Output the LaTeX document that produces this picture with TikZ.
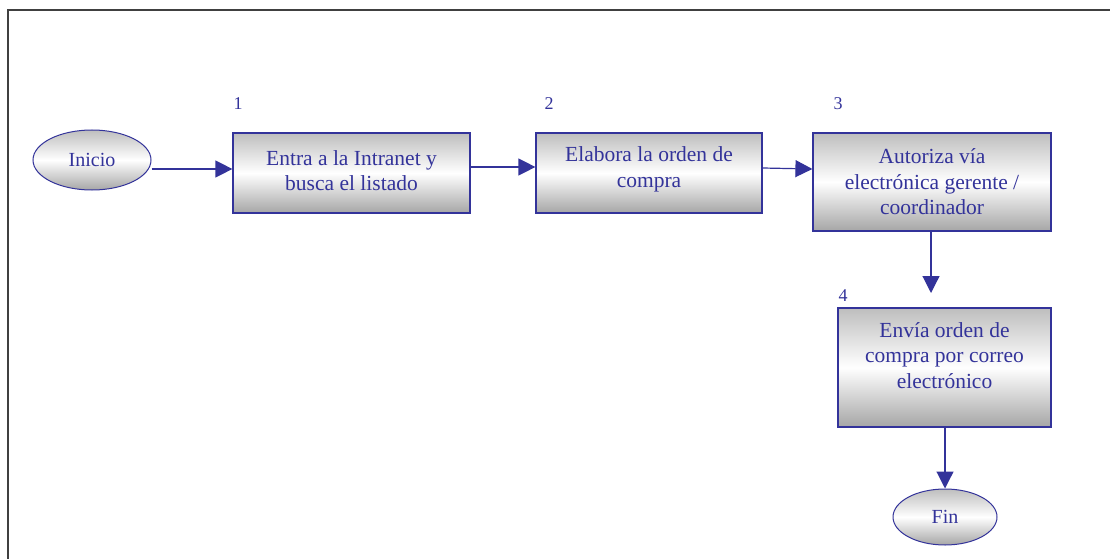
\documentclass[tikz,border=0pt]{standalone}
\usepackage{fontspec}
\setmainfont{Liberation Serif}
\usetikzlibrary{arrows.meta,shapes.geometric}
\definecolor{navy}{HTML}{33339A}
\definecolor{shadetop}{HTML}{BEBEBE}
\definecolor{shadebot}{HTML}{A6A6A6}
\tikzset{
  stepbox/.style={draw=navy, line width=1.2pt, rectangle,
    top color=shadetop, bottom color=shadebot, middle color=white,
    inner sep=0pt},
  boxtext/.style={align=center, text=navy, inner sep=0pt,
    font=\fontsize{21.5}{25.5}\selectfont},
  terminal/.style={draw=navy, line width=1pt, ellipse, align=center,
    text=navy, font=\fontsize{20}{24}\selectfont,
    top color=shadetop, bottom color=shadebot, middle color=white,
    inner sep=0pt},
  steplabel/.style={text=navy, font=\fontsize{18}{22}\selectfont, inner sep=0pt},
  flow/.style={draw=navy, line width=1.2pt, -{Triangle[length=17pt,width=17pt]}},
}
\begin{document}
\begin{tikzpicture}[x=1pt,y=-1pt]
  \useasboundingbox (0,0) rectangle (1110,559);
  % outer frame
  \draw[line width=2pt, black!75] (8,559) -- (8,10) -- (1112,10);

  % start / end
  \node[terminal, minimum width=118pt, minimum height=60pt] (ini) at (92,160) {Inicio};
  \node[terminal, minimum width=104pt, minimum height=56pt] (fin) at (945,517) {Fin};

  % process steps: shaded boxes, then their captions
  \node[stepbox, minimum width=237pt, minimum height=80pt] (s1) at (351.5,173) {};
  \node[stepbox, minimum width=226pt, minimum height=80pt] (s2) at (649,173) {};
  \node[stepbox, minimum width=238pt, minimum height=98pt] (s3) at (932,182) {};
  \node[stepbox, minimum width=213pt, minimum height=119pt] (s4) at (944.5,367.5) {};

  \node[boxtext] (t1) at ([yshift=2.5pt]s1.center) {Entra a la Intranet y\\busca el listado};
  \node[boxtext] (t2) at ([yshift=3.5pt]s2.center) {Elabora la orden de\\compra};
  \node[boxtext] (t3) at ([yshift=0pt]s3.center) {Autoriza vía\\electrónica gerente /\\coordinador};
  \node[boxtext] (t4) at ([yshift=12pt]s4.center) {Envía orden de\\compra por correo\\electrónico};

  % step numbers
  \node[steplabel] (n1) at (238,104) {1};
  \node[steplabel] (n2) at (549,104) {2};
  \node[steplabel] (n3) at (838,104) {3};
  \node[steplabel] (n4) at (843,296) {4};

  % connectors
  \draw[flow] (ini.east |- 0,169) -- (s1.west |- 0,169);
  \draw[flow] (s1.east |- 0,167) -- (s2.west |- 0,167);
  \draw[flow] (s2.east |- 0,168) -- (s3.west |- 0,169);
  \coordinate (d3) at (931,293);
  \draw[flow] (s3.south -| d3) -- (d3);
  \draw[flow] (s4.south -| fin.north) -- (fin.north);
\end{tikzpicture}
\end{document}
